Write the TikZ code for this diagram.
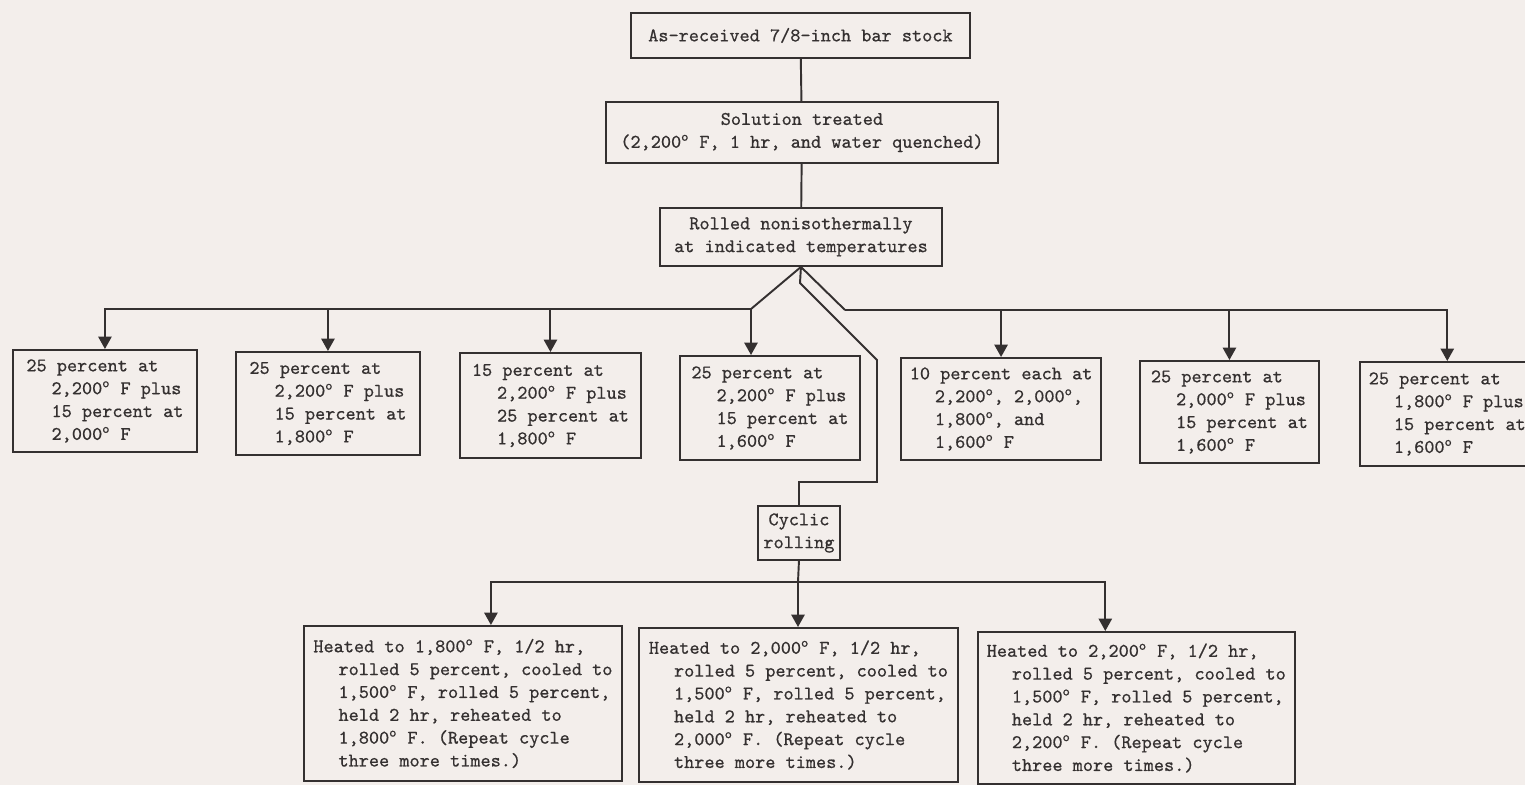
\documentclass[tikz,border=0pt]{standalone}
\usepackage{fontspec}
\usetikzlibrary{arrows.meta}
\usetikzlibrary{calc}
\newfontfamily\typer[FakeBold=0.6]{Latin Modern Mono}
\definecolor{paper}{RGB}{243,238,235}
\definecolor{ink}{RGB}{52,48,48}
\newcommand{\dg}{\textsuperscript{o}}
\newcommand{\ind}{\hspace*{1.3em}}

\begin{document}
\begin{tikzpicture}[x=0.02cm,y=-0.02cm,>={Triangle[length=7pt,width=7.5pt]}]
\tikzstyle{every node}=[font=\typer\fontsize{11}{13}\selectfont,text=ink]
\tikzstyle{box}=[draw=ink,line width=1.1pt,fill=paper,anchor=north west,inner xsep=5pt,inner ysep=3pt]
\tikzstyle{link}=[draw=ink,line width=1.1pt]

\fill[paper] (0,0) rectangle (1525,785);
\useasboundingbox (0,0) rectangle (1525,785);

%=== Tronc
\node[box,align=center,minimum width=6.78cm,minimum height=0.9cm] (stock) at (630,12) {As-received 7/8-inch bar stock};
\node[box,align=center,minimum width=7.84cm,minimum height=1.22cm] (solution) at (605,101) {Solution treated\\(2,200\dg{} F, 1 hr, and water quenched)};
\node[box,align=center,minimum width=5.64cm,minimum height=1.16cm] (rolled) at (659,207) {Rolled nonisothermally\\at indicated temperatures};
\draw[link] (stock) -- (solution);
\draw[link] (solution) -- (rolled);

%=== Laminage non isotherme
\node[box,align=left,minimum width=3.68cm,minimum height=2.04cm] (r1) at (12,349) {25 percent at\\\ind 2,200\dg{} F plus\\\ind 15 percent at\\\ind 2,000\dg{} F};
\node[box,align=left,minimum width=3.68cm,minimum height=2.06cm] (r2) at (235,351) {25 percent at\\\ind 2,200\dg{} F plus\\\ind 15 percent at\\\ind 1,800\dg{} F};
\node[box,align=left,minimum width=3.62cm,minimum height=2.10cm] (r3) at (459,352) {15 percent at\\\ind 2,200\dg{} F plus\\\ind 25 percent at\\\ind 1,800\dg{} F};
\node[box,align=left,minimum width=3.60cm,minimum height=2.08cm] (r4) at (679,355) {25 percent at\\\ind 2,200\dg{} F plus\\\ind 15 percent at\\\ind 1,600\dg{} F};
\node[box,align=left,minimum width=4.00cm,minimum height=2.04cm] (r5) at (900,357) {10 percent each at\\\ind 2,200\dg, 2,000\dg,\\\ind 1,800\dg, and\\\ind 1,600\dg{} F};
\node[box,align=left,minimum width=3.58cm,minimum height=2.04cm] (r6) at (1139,360) {25 percent at\\\ind 2,000\dg{} F plus\\\ind 15 percent at\\\ind 1,600\dg{} F};
\node[box,align=left,minimum width=3.28cm,minimum height=2.08cm] (r7) at (1359,361) {25 percent at\\\ind 1,800\dg{} F plus\\\ind 15 percent at\\\ind 1,600\dg{} F};

% Branches
\coordinate (jl) at (751,309);
\coordinate (jr) at (845,310);
\draw[link] (rolled.south) -- (jl);
\draw[link] (rolled.south) -- (jr);
\draw[link,->] (jl) -- (jl |- r4.north);
\foreach \n in {r1,r2,r3} \draw[link,->] (jl) -| (\n.north);
\foreach \n in {r5,r6,r7} \draw[link,->] (jr) -| (\n.north);

%=== Laminage cyclique
\node[box,align=center,minimum width=1.64cm,minimum height=1.08cm,inner xsep=2pt] (cyclic) at (757,505) {Cyclic\\rolling};
\coordinate (k1) at (800,283);
\coordinate (k2) at (877,360);
\coordinate (k3) at (877,482);
\draw[link] (rolled.south) -- (k1) -- (k2) -- (k3) -| (cyclic.north);

\node[box,align=left,minimum width=6.36cm,minimum height=3.10cm] (l1) at (303,625) {Heated to 1,800\dg{} F, 1/2 hr,\\\ind rolled 5 percent, cooled to\\\ind 1,500\dg{} F, rolled 5 percent,\\\ind held 2 hr, reheated to\\\ind 1,800\dg{} F. (Repeat cycle\\\ind three more times.)};
\node[box,align=left,minimum width=6.38cm,minimum height=3.08cm] (l2) at (638,627) {Heated to 2,000\dg{} F, 1/2 hr,\\\ind rolled 5 percent, cooled to\\\ind 1,500\dg{} F, rolled 5 percent,\\\ind held 2 hr, reheated to\\\ind 2,000\dg{} F. (Repeat cycle\\\ind three more times.)};
\node[box,align=left,minimum width=6.30cm,minimum height=3.04cm] (l3) at (977,631) {Heated to 2,200\dg{} F, 1/2 hr,\\\ind rolled 5 percent, cooled to\\\ind 1,500\dg{} F, rolled 5 percent,\\\ind held 2 hr, reheated to\\\ind 2,200\dg{} F. (Repeat cycle\\\ind three more times.)};

% Branches
\coordinate (jb) at (798,582);
\draw[link] (cyclic.south) -- (jb);
\draw[link,->] (jb) -| ($(l1.north)+(28,0)$);
\draw[link,->] (jb) -- (jb |- l2.north);
\draw[link,->] (jb) -| ($(l3.north)+(-31,0)$);
\end{tikzpicture}
\end{document}
